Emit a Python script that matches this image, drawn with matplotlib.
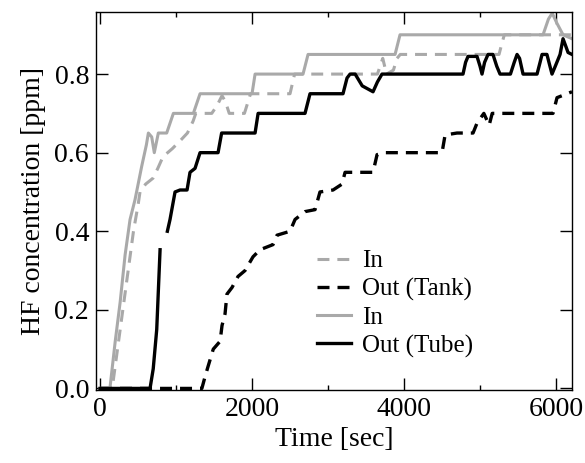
import numpy as np
import matplotlib
matplotlib.use('Agg')
import matplotlib.pyplot as plt

plt.rcParams['font.family'] = ['Liberation Serif', 'DejaVu Serif']

# In (Tank) - grey dashed
t_in_tank = [0, 160, 230, 300, 370, 440, 503, 526, 600, 697, 760, 829, 950, 1053, 1150,
             1224, 1260, 1470, 1540, 1605, 1650, 1700, 1900, 1980, 2500, 2560, 3650,
             3720, 3770, 3860, 3908, 3950, 5250, 5290, 5320, 6210]
c_in_tank = [0.0, 0.0, 0.10, 0.20, 0.30, 0.40, 0.47, 0.50, 0.52, 0.535, 0.56, 0.59, 0.61,
             0.63, 0.65, 0.68, 0.70, 0.70, 0.72, 0.745, 0.73, 0.70, 0.70, 0.75, 0.75, 0.80,
             0.80, 0.84, 0.80, 0.81, 0.84, 0.85, 0.85, 0.88, 0.90, 0.90]

# Out (Tank) - black dashed
t_out_tank = [0, 1340, 1382, 1420, 1490, 1580, 1605, 1645, 1670, 1737, 1816, 1908, 2013,
              2105, 2276, 2329, 2500, 2566, 2697, 2829, 2894, 3066, 3184, 3224, 3592, 3645,
              3750, 4500, 4540, 4697, 4908, 4960, 5050, 5120, 5160, 5960, 6013, 6145, 6210]
c_out_tank = [0.0, 0.0, 0.03, 0.055, 0.10, 0.12, 0.16, 0.19, 0.24, 0.257, 0.285, 0.30,
              0.335, 0.353, 0.366, 0.39, 0.40, 0.43, 0.45, 0.455, 0.50, 0.505, 0.52, 0.55,
              0.55, 0.595, 0.60, 0.60, 0.645, 0.65, 0.65, 0.675, 0.70, 0.67, 0.70, 0.70,
              0.74, 0.75, 0.755]

# In (Tube) - grey solid
t_in_tube = [0, 130, 200, 265, 330, 395, 460, 548, 610, 636, 680, 714, 767, 877, 965, 1228,
             1316, 2000, 2040, 2671, 2737, 3882, 3947, 5829, 5900, 5950, 6010, 6092, 6210]
c_in_tube = [0.0, 0.0, 0.12, 0.22, 0.34, 0.43, 0.48, 0.565, 0.62, 0.65, 0.64, 0.60, 0.65,
             0.65, 0.70, 0.70, 0.75, 0.75, 0.80, 0.80, 0.85, 0.85, 0.90, 0.90, 0.94, 0.955,
             0.93, 0.90, 0.89]

# Out (Tube) - black solid (gap in the record between 0.35 and 0.40)
t_out_tube = [0, 658, 700, 746, 790, np.nan, 886, 921, 987, 1053, 1145, 1184, 1250, 1316,
              1553, 1600, 2040, 2080, 2697, 2763, 3197, 3250, 3290, 3357, 3450, 3592, 3650,
              3710, 4776, 4810, 4842, 4960, 5000, 5026, 5060, 5105, 5170, 5220, 5263, 5400,
              5450, 5487, 5520, 5566, 5750, 5790, 5816, 5880, 5920, 5947, 5990, 6053, 6092,
              6130, 6158, 6210]
c_out_tube = [0.0, 0.0, 0.05, 0.15, 0.353, np.nan, 0.40, 0.43, 0.50, 0.505, 0.505, 0.55,
              0.56, 0.60, 0.60, 0.65, 0.65, 0.70, 0.70, 0.75, 0.75, 0.79, 0.80, 0.80, 0.77,
              0.755, 0.78, 0.80, 0.80, 0.83, 0.845, 0.845, 0.82, 0.80, 0.83, 0.85, 0.85,
              0.82, 0.80, 0.80, 0.83, 0.85, 0.84, 0.80, 0.80, 0.83, 0.85, 0.85, 0.82, 0.80,
              0.82, 0.85, 0.89, 0.87, 0.855, 0.85]

grey = '#a9a9a9'

fig = plt.figure(figsize=(5.85, 4.63), dpi=100)
ax = fig.add_axes([96/585, 1-390/463, 476/585, 378/463])

ax.plot(t_in_tank, c_in_tank, color=grey, lw=2.2, dashes=(3.9, 2.6), label='In',
        solid_joinstyle='round', dash_joinstyle='round')
ax.plot(t_out_tank, c_out_tank, color='k', lw=2.4, dashes=(3.6, 2.4), label='Out (Tank)',
        dash_joinstyle='round')
ax.plot(t_in_tube, c_in_tube, color=grey, lw=2.2, label='In', solid_joinstyle='round')
ax.plot(t_out_tube, c_out_tube, color='k', lw=2.4, label='Out (Tube)',
        solid_joinstyle='round')

ax.set_xlim(-53, 6210)
ax.set_ylim(-0.004, 0.958)
ax.set_xticks([0, 2000, 4000, 6000])
ax.set_xticks([1000, 3000, 5000], minor=True)
ax.set_yticks([0.0, 0.2, 0.4, 0.6, 0.8])
ax.set_yticklabels(['0.0', '0.2', '0.4', '0.6', '0.8'])
ax.tick_params(which='both', direction='in', top=True, right=True, labelsize=20, pad=5)
ax.tick_params(which='major', length=8.6, width=1)
ax.tick_params(which='minor', length=3.6, width=1)
for s in ax.spines.values():
    s.set_linewidth(1)

ax.set_xlabel('Time [sec]', fontsize=20, labelpad=4)
ax.set_ylabel('HF concentration [ppm]', fontsize=20, labelpad=6)

ax.legend(loc='center left', bbox_to_anchor=(0.443, 0.228), borderaxespad=0,
          frameon=False, fontsize=18, handlelength=1.37, handletextpad=0.45,
          labelspacing=0.22)

plt.savefig('out.png', dpi=100)
